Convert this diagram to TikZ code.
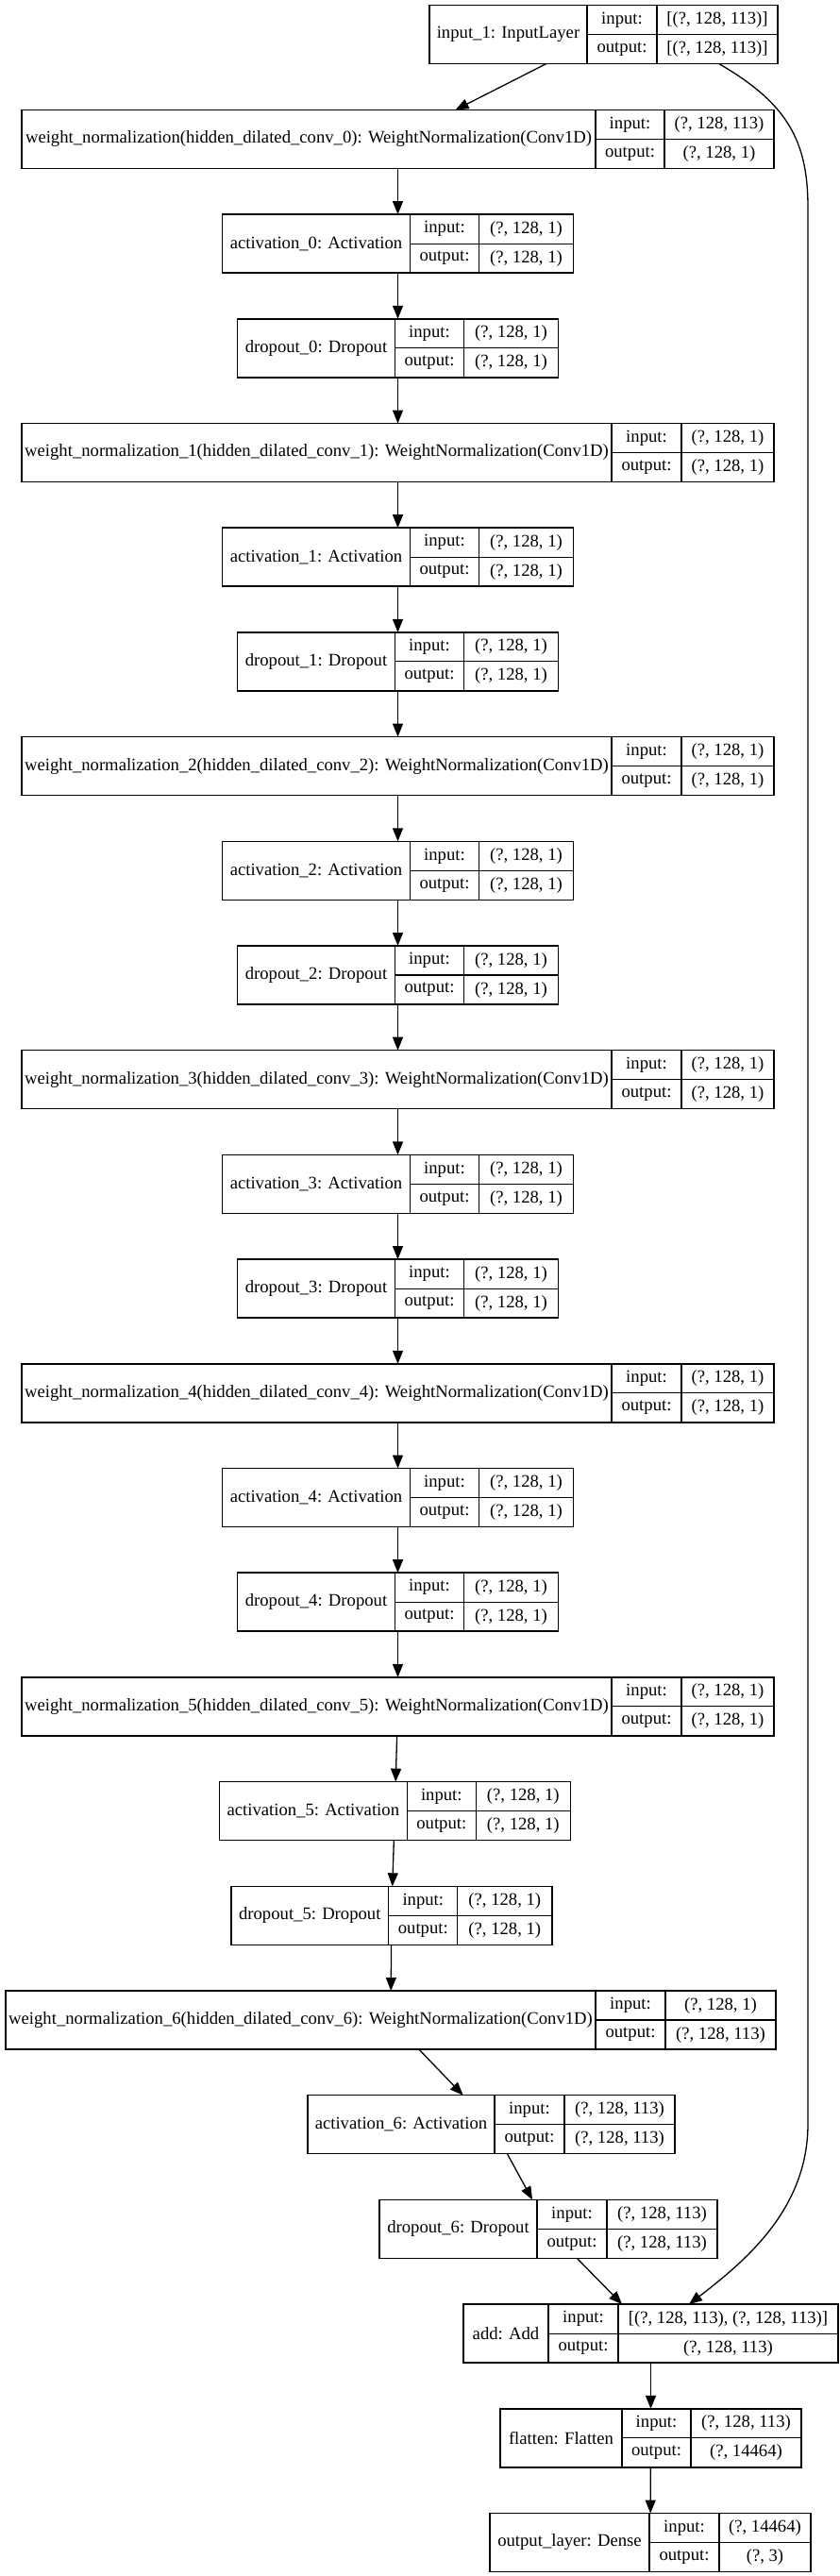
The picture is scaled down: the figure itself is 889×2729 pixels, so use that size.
\documentclass[tikz,border=0pt]{standalone}
\usepackage{fontspec}
\setmainfont{Liberation Serif}
\usetikzlibrary{arrows.meta}
\newcommand\klayer[9]{%
  \pgfmathsetmacro\kW{#4+#5+#6}%
  \pgfmathsetmacro\kL{#2-\kW/2}%
  \pgfmathsetmacro\kT{5.7+110.7*(#3-1)}%
  \pgfmathsetmacro\kA{\kL+#4}%
  \pgfmathsetmacro\kB{\kA+#5}%
  \pgfmathsetmacro\kR{\kL+\kW}%
  \node[lbox, minimum width=\kW pt, minimum height=62pt, anchor=north west] (#1) at (\kL,\kT) {};
  \draw[cellline] (\kA,\kT) -- (\kA,\kT+62) (\kB,\kT) -- (\kB,\kT+62) (\kA,\kT+31) -- (\kR,\kT+31);
  \node[txt] (#1-n) at ({\kL+#4/2},\kT+31) {#7};
  \node[txt] (#1-il) at ({\kA+#5/2},\kT+15.5) {input:};
  \node[txt] (#1-ol) at ({\kA+#5/2},\kT+46.5) {output:};
  \node[txt] (#1-iv) at ({\kB+#6/2},\kT+15.5) {#8};
  \node[txt] (#1-ov) at ({\kB+#6/2},\kT+46.5) {#9};
}
\begin{document}
\begin{tikzpicture}[x=1pt,y=-1pt,
  lbox/.style={draw, line width=1.5pt, inner sep=0pt, outer sep=0pt},
  cellline/.style={line width=1.1pt},
  txt/.style={inner sep=0pt, font=\fontsize{18.67pt}{22pt}\selectfont},
  arr/.style={line width=1.3pt, -{Triangle[length=14pt,width=11pt]}}]
\useasboundingbox (0,0) rectangle (889,2729);
\klayer{in1}{639.5}{1}{167}{74}{128}{input\_1: InputLayer}{[(?, 128, 113)]}{[(?, 128, 113)]}
\klayer{wn0}{421.5}{2}{608}{73}{116}{weight\_normalization(hidden\_dilated\_conv\_0): WeightNormalization(Conv1D)}{(?, 128, 113)}{(?, 128, 1)}
\klayer{act0}{421.5}{3}{199}{73}{100}{activation\_0: Activation}{(?, 128, 1)}{(?, 128, 1)}
\klayer{drop0}{421.5}{4}{167}{73}{100}{dropout\_0: Dropout}{(?, 128, 1)}{(?, 128, 1)}
\draw[arr] (in1) -- (wn0);
\draw[arr] (wn0) -- (act0);
\draw[arr] (act0) -- (drop0);
\foreach \k in {1,...,4} {
  \pgfmathtruncatemacro\r{5+3*(\k-1)}
  \pgfmathtruncatemacro\ra{\r+1}
  \pgfmathtruncatemacro\rb{\r+2}
  \pgfmathtruncatemacro\kp{\k-1}
  \klayer{wn\k}{421.5}{\r}{625}{74}{98}{weight\_normalization\_\k(hidden\_dilated\_conv\_\k): WeightNormalization(Conv1D)}{(?, 128, 1)}{(?, 128, 1)}
  \klayer{act\k}{421.5}{\ra}{199}{73}{100}{activation\_\k: Activation}{(?, 128, 1)}{(?, 128, 1)}
  \klayer{drop\k}{421.5}{\rb}{167}{73}{100}{dropout\_\k: Dropout}{(?, 128, 1)}{(?, 128, 1)}
  \draw[arr] (drop\kp) -- (wn\k);
  \draw[arr] (wn\k) -- (act\k);
  \draw[arr] (act\k) -- (drop\k);
}
\klayer{wn5}{421.5}{17}{625}{74}{98}{weight\_normalization\_5(hidden\_dilated\_conv\_5): WeightNormalization(Conv1D)}{(?, 128, 1)}{(?, 128, 1)}
\klayer{act5}{418.3}{18}{199}{73}{100}{activation\_5: Activation}{(?, 128, 1)}{(?, 128, 1)}
\klayer{drop5}{414.8}{19}{167}{73}{100}{dropout\_5: Dropout}{(?, 128, 1)}{(?, 128, 1)}
\klayer{wn6}{414}{20}{625}{74}{117}{weight\_normalization\_6(hidden\_dilated\_conv\_6): WeightNormalization(Conv1D)}{(?, 128, 1)}{(?, 128, 113)}
\klayer{act6}{520.5}{21}{198}{74}{117}{activation\_6: Activation}{(?, 128, 113)}{(?, 128, 113)}
\klayer{drop6}{581}{22}{167}{74}{117}{dropout\_6: Dropout}{(?, 128, 113)}{(?, 128, 113)}
\klayer{add}{689.5}{23}{90}{74}{233}{add: Add}{[(?, 128, 113), (?, 128, 113)]}{(?, 128, 113)}
\klayer{flat}{689.5}{24}{129}{73}{117}{flatten: Flatten}{(?, 128, 113)}{(?, 14464)}
\klayer{out}{689}{25}{169}{74}{97}{output\_layer: Dense}{(?, 14464)}{(?, 3)}
\draw[arr] (drop4) -- (wn5);
\draw[arr] (wn5) -- (act5);
\draw[arr] (act5) -- (drop5);
\draw[arr] (drop5) -- (wn6);
\draw[arr] (wn6) -- (act6);
\draw[arr] (act6) -- (drop6);
\draw[arr] (drop6) -- (add);
\draw[arr] (add) -- (flat);
\draw[arr] (flat) -- (out);
\draw[arr] ([xshift=-62pt]in1.south east) .. controls (835,110) and (856,150) .. (856,220)
  -- (856,2250) .. controls (856,2340) and (790,2395) .. ([xshift=239pt]add.north west);
\end{tikzpicture}
\end{document}
